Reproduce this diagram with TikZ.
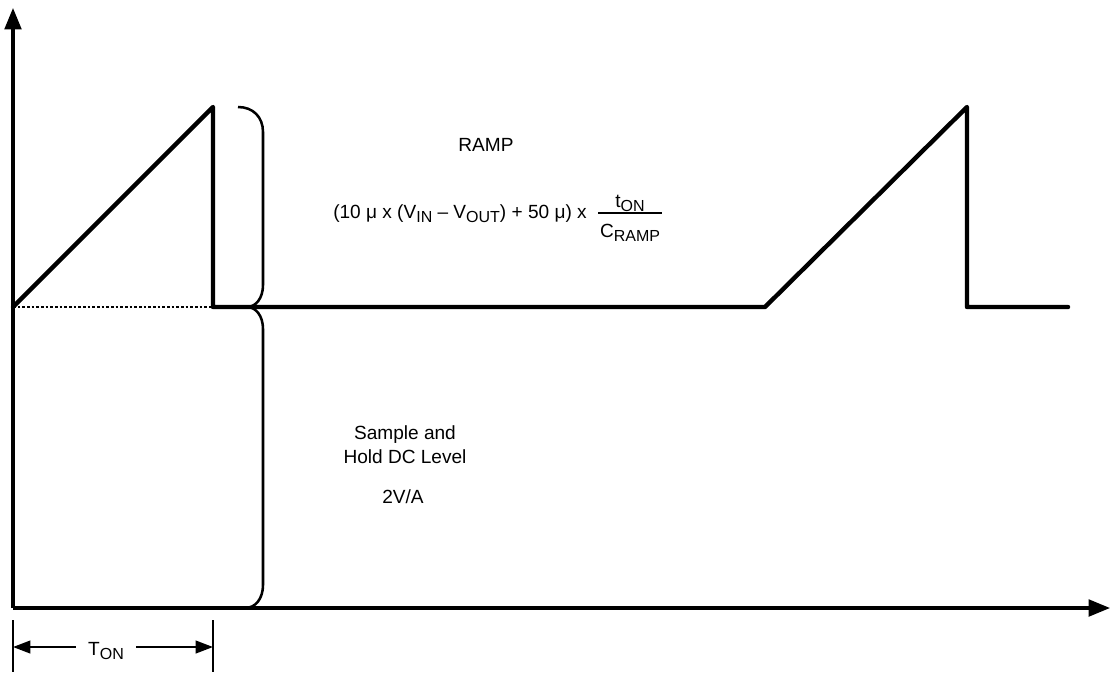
\documentclass[tikz,border=0pt]{standalone}
\usepackage{fontspec}
\setmainfont{Liberation Sans}
\usetikzlibrary{arrows.meta}
\newcommand\sbs[1]{\raisebox{-3pt}{\fontsize{12}{12}\selectfont #1}}
\begin{document}
\begin{tikzpicture}[x=0.75pt,y=-0.75pt,
  axis/.style={line width=2.3pt,-{Triangle[length=16pt,width=12.5pt]}},
  wave/.style={line width=3.3pt,line join=round,line cap=round},
  bracket/.style={line width=1.9pt},
  guide/.style={line width=1pt,dash pattern=on 2pt off 1.5pt},
  tick/.style={line width=1.5pt},
  dim/.style={line width=1.5pt,-{Triangle[length=13pt,width=9.5pt]}},
  lbl/.style={font=\fontsize{14.3}{18}\selectfont,inner sep=0pt,align=center},
  bar/.style={line width=1pt}
]
\useasboundingbox (0,0) rectangle (1110,672);

% axes
\coordinate (O) at (13,608);
\coordinate (ytip) at (13,8);
\coordinate (xtip) at (1110,608);
\draw[axis] (O) -- (ytip);
\draw[axis] (O) -- (xtip);

% waveform
\coordinate (w0) at (13,307);
\coordinate (w1) at (213,107);
\coordinate (w2) at (213,307);
\coordinate (w3) at (765,307);
\coordinate (w4) at (967,107);
\coordinate (w5) at (967,307);
\coordinate (w6) at (1068,307);
\draw[guide] (w0) -- (w2);
\draw[wave] (w0) -- (w1) -- (w2) -- (w3) -- (w4) -- (w5) -- (w6);

% brackets
\coordinate (b0) at (238,107);
\coordinate (bm) at (247,307);
\coordinate (b1) at (245,608);
\draw[bracket] (b0) .. controls (253,107) and (263,117) .. (263,132)
  -- (263,285) .. controls (263,298) and (256,307) .. (bm);
\draw[bracket] (bm) .. controls (256,307) and (263,316) .. (263,329)
  -- (263,585) .. controls (263,598) and (256,608) .. (b1);

% texts
\node[lbl] (ramp) at (486,145) {RAMP};
\node[lbl,anchor=base west] (form) at (333,218)
  {(10 μ x (V\sbs{IN} – V\sbs{OUT}) + 50 μ) x};
\node[lbl,anchor=base] (num) at (630,207) {t\sbs{ON}};
\node[lbl,anchor=base] (den) at (630,237) {C\sbs{RAMP}};
\coordinate (fracL) at (598,213);
\coordinate (fracR) at (662,213);
\draw[bar] (fracL) -- (fracR);

\node[lbl] (sh) at (405,445) {Sample and\\Hold DC Level};
\node[lbl] (gain) at (403,497) {2V/A};

% T_ON dimension
\coordinate (tl0) at (13,620);
\coordinate (tl1) at (13,672);
\coordinate (tr0) at (213,620);
\coordinate (tr1) at (213,672);
\draw[tick] (tl0) -- (tl1);
\draw[tick] (tr0) -- (tr1);
\node[lbl,anchor=base,inner xsep=9pt] (ton) at (106,655) {T\sbs{ON}};
\coordinate (al) at (13,647);
\coordinate (ar) at (213,647);
\draw[dim] (ton.west |- al) -- (al);
\draw[dim] (ton.east |- ar) -- (ar);
\end{tikzpicture}
\end{document}
